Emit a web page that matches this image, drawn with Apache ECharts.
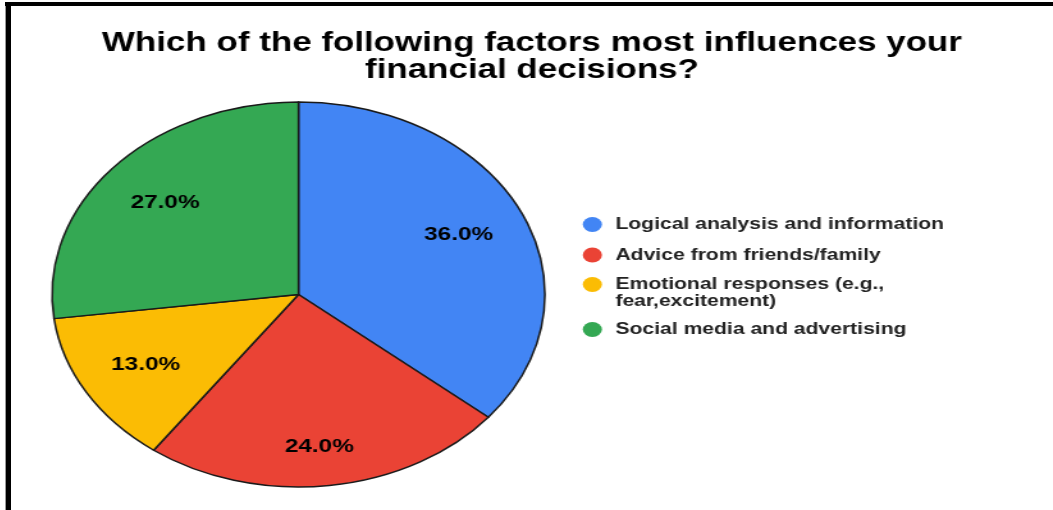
<!DOCTYPE html>
<html>
<head>
<meta charset="utf-8">
<script src="https://cdn.jsdelivr.net/npm/echarts@6/dist/echarts.min.js"></script>
<style>
  html, body { margin: 0; padding: 0; background: #fff; overflow: hidden; }
  #frame { position: relative; width: 1053px; height: 510px; background: #fff; }
  /* the chart is laid out in a narrower box and widened horizontally */
  #chart { position: absolute; left: 11px; top: 0; height: 510px; transform-origin: left top; }
  #rule-top { position: absolute; left: 5px; top: 2px; width: 1048px; height: 4px; background: #000; }
  #rule-left { position: absolute; left: 6px; top: 2px; width: 5px; height: 508px; background: #000; }
  #rule-edge { position: absolute; left: 5px; top: 2px; width: 1px; height: 508px; background: #9a9a9a; }
</style>
</head>
<body>
<div id="frame">
  <div id="chart"></div>
  <div id="rule-edge"></div>
  <div id="rule-left"></div>
  <div id="rule-top"></div>
</div>
<script>
// Survey answers: share of respondents per factor (percent)
const categories = [
  'Logical analysis and information',
  'Advice from friends/family',
  'Emotional responses (e.g.,\nfear,excitement)',
  'Social media and advertising'
];
const shares = [36, 24, 13, 27];
const colors = ['#4285F4', '#EA4335', '#FBBC04', '#34A853'];
const titleText = 'Which of the following factors most influences your\nfinancial decisions?';

// horizontal stretch applied to the whole drawing
const STRETCH = 1.28;
const FULL_W = 1042;
const chartEl = document.getElementById('chart');
const innerW = FULL_W / STRETCH;
chartEl.style.width = innerW + 'px';
chartEl.style.transform = 'scaleX(' + STRETCH + ')';

const center = [(298.5 - 11) / STRETCH, 294.5];
const R = 192.5;
const labelRadiusRatio = 0.72;
const FONT = 'Liberation Sans, Arial, sans-serif';

const pieData = categories.map((name, i) => ({
  name: name,
  value: shares[i],
  itemStyle: { color: colors[i] }
}));

// label carrier: a transparent pie whose inner label ring sits at 72% of R
const labelOffsets = [[-3, 1], [-1.5, 12], [2.5, -2], [2, 2]];
const labelData = categories.map((name, i) => ({
  name: name,
  value: shares[i],
  itemStyle: { color: 'rgba(0,0,0,0)' },
  label: { offset: labelOffsets[i] }
}));

// one legend block per category; the two-line entry gets a blank leading line
// so its marker lines up with the first line of text
const legendTops = [216, 246.5, 259, 321];
const legends = categories.map((name, i) => {
  const twoLines = name.indexOf('\n') >= 0;
  return {
    orient: 'vertical',
    left: 446.7,
    top: legendTops[i],
    padding: 0,
    itemWidth: 26,
    itemHeight: 15,
    icon: 'circle',
    selectedMode: false,
    itemStyle: { borderWidth: 0 },
    data: [name],
    formatter: n => (twoLines ? ' \n' + n : n),
    textStyle: {
      fontFamily: FONT,
      fontWeight: 'bold',
      fontSize: 16.5,
      lineHeight: 17,
      color: '#222222'
    }
  };
});

const chart = echarts.init(chartEl, null, { renderer: 'canvas' });
chart.setOption({
  animation: false,
  backgroundColor: 'transparent',
  title: {
    text: titleText,
    left: 'center',
    top: 30,
    padding: 0,
    textStyle: {
      fontFamily: FONT,
      fontWeight: 'bold',
      fontSize: 27.3,
      lineHeight: 27,
      color: '#000000'
    }
  },
  legend: legends,
  series: [
    {
      type: 'pie',
      center: center,
      radius: [0, R],
      startAngle: 90,
      clockwise: true,
      silent: true,
      label: { show: false },
      labelLine: { show: false },
      itemStyle: { borderColor: '#1a1a1a', borderWidth: 1.5 },
      emphasis: { disabled: true },
      data: pieData
    },
    {
      type: 'pie',
      center: center,
      radius: [0, R * labelRadiusRatio * 2],
      startAngle: 90,
      clockwise: true,
      silent: true,
      avoidLabelOverlap: false,
      labelLine: { show: false },
      emphasis: { disabled: true },
      label: {
        show: true,
        position: 'inside',
        formatter: p => p.value.toFixed(1) + '%',
        fontFamily: FONT,
        fontWeight: 'bold',
        fontSize: 19,
        color: '#000000'
      },
      data: labelData
    }
  ]
});
</script>
</body>
</html>
